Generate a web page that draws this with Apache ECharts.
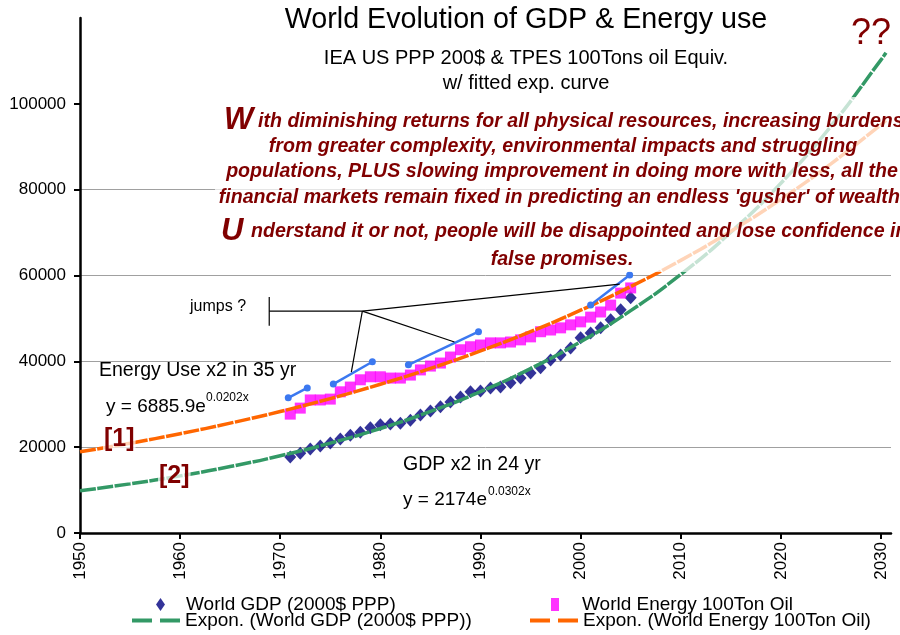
<!DOCTYPE html>
<html><head><meta charset="utf-8">
<script src="https://cdn.jsdelivr.net/npm/echarts@6/dist/echarts.min.js"></script>
<style>html,body{margin:0;padding:0;background:#fff}#c{width:900px;height:635px}</style>
</head><body><div id="c"></div>
<script>
// ---------- data ----------
const years = [1971,1972,1973,1974,1975,1976,1977,1978,1979,1980,1981,1982,1983,1984,1985,1986,1987,1988,1989,1990,1991,1992,1993,1994,1995,1996,1997,1998,1999,2000,2001,2002,2003,2004,2005];
const gdpValues = [17700,18600,19600,20300,21000,21900,22800,23500,24500,25200,25400,25600,26300,27500,28400,29400,30500,31700,32900,33100,33800,34000,35000,36100,37300,38500,40300,41500,43100,45500,46600,47800,49700,52000,54800];
const energyValues = [27700,29100,31000,31000,31200,32900,34000,35700,36400,36400,36100,36100,36800,38000,38900,39600,41000,42700,43400,43800,44300,44300,44500,45000,45700,46900,47300,47800,48500,49200,50300,51500,53100,55900,57100];
const trendYears = [1950,1955,1960,1965,1970,1975,1980,1985,1990,1995,2000,2005,2010,2015,2020,2025,2030,2030.5];
const gdpTrend = [9840,11450,13310,15480,18000,20940,24350,28320,32940,38310,44550,51810,60250,70070,81500,94790,110250,111900];
const energyTrend = [18910,20910,23140,25600,28310,31320,34660,38340,42420,46920,51910,57430,63530,70290,77760,86020,95160,96130];
const jumpSegments = [
  [[1970.8,31500],[1972.7,33800]],
  [[1975.3,34700],[1979.2,39900]],
  [[1982.8,39200],[1989.8,46900]],
  [[2001.0,53100],[2004.9,60100]]
];
const pointerLines = [
  [[1968.9,55000],[1968.9,48300]],
  [[1968.9,51700],[1978.2,51700]],
  [[1978.2,51700],[1977.1,37500]],
  [[1978.2,51700],[1987.4,44500]],
  [[1978.2,51700],[2003.9,58000]]
];
const xTickLabels = [1950,1960,1970,1980,1990,2000,2010,2020,2030];
const yTickLabels = [0,20000,40000,60000,80000,100000];
const seriesNames = ['World GDP (2000$ PPP)','World Energy 100Ton Oil','Expon. (World GDP (2000$ PPP))','Expon. (World Energy 100Ton Oil)'];

// ---------- chart ----------
const F = "'Liberation Sans', Arial, sans-serif";
const RED = '#800000';
const chart = echarts.init(document.getElementById('c'), null, {renderer:'canvas'});

function txt(x, y, text, size, extra) {
  return Object.assign({type:'text', x:x, y:y, z:120,
    style:Object.assign({text:text, fontSize:size, fontFamily:F, fill:'#000',
      align:'left', verticalAlign:'middle', textAlign:'left', textVerticalAlign:'middle'}, extra||{})});
}
function center(x, y, text, size, extra) {
  return txt(x, y, text, size, Object.assign({align:'center', textAlign:'center'}, extra||{}));
}
const redStyle = {fontWeight:'bold', fontStyle:'italic', fill:RED};
const RS = 19.6;

const series = [
  {name:seriesNames[0], type:'scatter', data:years.map((y,i)=>[y,gdpValues[i]]),
   symbol:'diamond', symbolSize:[12,13], itemStyle:{color:'#00007f'}, z:2},
  {name:seriesNames[1], type:'scatter', data:years.map((y,i)=>[y,energyValues[i]]),
   symbol:'rect', symbolSize:11, itemStyle:{color:'#ff00ff'}, z:2},
  {name:seriesNames[2], type:'line', data:trendYears.map((y,i)=>[y,gdpTrend[i]]), smooth:true,
   symbol:'none', lineStyle:{color:'#339966', width:3.5, type:[16,1.5]}, itemStyle:{color:'#339966'}, z:3},
  {name:seriesNames[3], type:'line', data:trendYears.map((y,i)=>[y,energyTrend[i]]), smooth:true,
   symbol:'none', lineStyle:{color:'#ff6600', width:3.5, type:[16,1.5]}, itemStyle:{color:'#ff6600'}, z:3}
];
jumpSegments.forEach(seg => series.push({type:'line', data:seg, symbol:'circle', symbolSize:7, showSymbol:true,
  lineStyle:{color:'#3b78f0', width:2.5}, itemStyle:{color:'#3b78f0'}, z:4, silent:true}));
pointerLines.forEach(seg => series.push({type:'line', data:seg, symbol:'none',
  lineStyle:{color:'#000', width:1.2}, z:4, silent:true}));

const legendText = {fontSize:19, fontFamily:F, color:'#000'};
const dashIcon = 'path://M0,0H20V4H0Z M28,0H48V4H28Z';
const option = {
  animation:false,
  backgroundColor:'#fff',
  grid:{left:80, right:9, top:18, bottom:102, containLabel:false},
  xAxis:{type:'value', min:1950, max:2031, interval:10,
    axisLine:{show:true, onZero:false, lineStyle:{color:'#000', width:2.5}},
    axisTick:{show:true, length:6, lineStyle:{color:'#000', width:2}, customValues:xTickLabels},
    axisLabel:{rotate:90, fontSize:17, fontFamily:F, color:'#000', margin:9, customValues:xTickLabels,
      formatter:v => (v%10===0 ? String(v) : '')},
    splitLine:{show:false}},
  yAxis:{type:'value', min:0, max:120000, interval:20000,
    axisLine:{show:true, onZero:false, lineStyle:{color:'#000', width:2.5}},
    axisTick:{show:true, length:6, lineStyle:{color:'#000', width:2}, customValues:yTickLabels},
    axisLabel:{fontSize:17, fontFamily:F, color:'#000', margin:14, customValues:yTickLabels,
      formatter:v => (v<=100000 ? String(v) : '')},
    splitLine:{show:true, showMaxLine:false, lineStyle:{color:'#a0a0a0', width:1}}},
  legend:[
    {data:[{name:seriesNames[0], icon:'diamond'}], left:156, top:595, padding:0, itemWidth:9, itemHeight:13,
     symbolKeepAspect:false, textStyle:Object.assign({padding:[0,0,0,16]}, legendText), selectedMode:false},
    {data:[{name:seriesNames[1], icon:'rect'}], left:551, top:595, padding:0, itemWidth:8, itemHeight:13,
     symbolKeepAspect:false, textStyle:Object.assign({padding:[0,0,0,18]}, legendText), selectedMode:false},
    {data:[{name:seriesNames[2], icon:dashIcon}], left:132, top:611, padding:0, itemWidth:48, itemHeight:4,
     textStyle:legendText, selectedMode:false},
    {data:[{name:seriesNames[3], icon:dashIcon}], left:530, top:611, padding:0, itemWidth:48, itemHeight:4,
     textStyle:legendText, selectedMode:false}
  ],
  series:series,
  graphic:[
    center(526, 20, 'World Evolution of GDP & Energy use', 28.7),
    center(526, 58, 'IEA US PPP 200$ & TPES 100Tons oil Equiv.', 20),
    center(526, 83, 'w/ fitted exp. curve', 20),
    txt(851, 34, '??', 36, {fill:RED}),
    {type:'rect', z:100, shape:{x:215, y:97, width:690, height:175}, style:{fill:'rgba(255,255,255,0.72)'}},
    txt(224, 120, 'W', 31, redStyle),
    txt(258, 122, 'ith diminishing returns for all physical resources, increasing burdens', RS, redStyle),
    center(563, 147, 'from greater complexity, environmental impacts and struggling', RS, redStyle),
    center(562, 172, 'populations, PLUS slowing improvement in doing more with less, all the', RS, redStyle),
    center(562, 198, "financial markets remain fixed in predicting an endless 'gusher' of wealth.", RS, redStyle),
    txt(221, 231, 'U', 31, redStyle),
    txt(251, 232, 'nderstand it or not, people will be disappointed and lose confidence in', RS, redStyle),
    center(562, 260, 'false promises.', RS, redStyle),
    txt(190, 307, 'jumps ?', 16),
    txt(99, 371, 'Energy Use x2 in 35 yr', 19.5),
    txt(106, 407, 'y = 6885.9e', 19),
    txt(206, 398, '0.0202x', 12),
    txt(403, 465, 'GDP x2 in 24 yr', 19.5),
    txt(403, 500, 'y = 2174e', 19),
    txt(488, 492, '0.0302x', 12),
    txt(103, 439, '[1]', 25, {fill:RED, fontWeight:'bold', backgroundColor:'rgba(255,255,255,0.7)', padding:[0,1,0,1]}),
    txt(158, 476, '[2]', 25, {fill:RED, fontWeight:'bold', backgroundColor:'rgba(255,255,255,0.7)', padding:[0,1,0,1]})
  ]
};
chart.setOption(option);
</script></body></html>
